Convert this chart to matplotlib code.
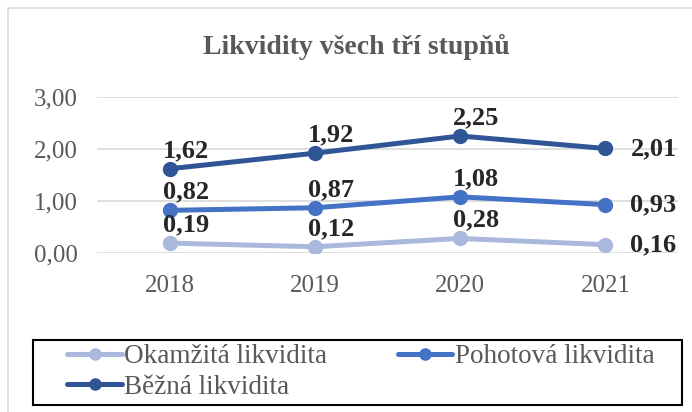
import matplotlib.pyplot as plt
from matplotlib.patches import Rectangle

# data
years = ["2018", "2019", "2020", "2021"]
okamzita = [0.19, 0.12, 0.28, 0.16]
pohotova = [0.82, 0.87, 1.08, 0.93]
bezna = [1.62, 1.92, 2.25, 2.01]
series_names = ["Okamžitá likvidita", "Pohotová likvidita", "Běžná likvidita"]
yticks = [0.0, 1.0, 2.0, 3.0]

colors = ["#A9B8DC", "#4472C4", "#2F5597"]
text_gray = "#595959"

plt.rcParams['font.family'] = ['Liberation Serif', 'DejaVu Serif']

W, H = 692, 412
fig = plt.figure(figsize=(W / 100, H / 100), dpi=100)
ax = fig.add_axes([97 / W, 1 - 253 / H, 581 / W, 156 / H])

# outer chart border
fig.patches.append(Rectangle((8 / W, -0.1), 1.2, 1 - 8 / H + 0.1,
                             transform=fig.transFigure, fill=False,
                             edgecolor="#D9D9D9", linewidth=1.2))
# legend box
fig.patches.append(Rectangle((33 / W, 1 - 405 / H), 649 / W, 65 / H,
                             transform=fig.transFigure, fill=False,
                             edgecolor="black", linewidth=1.5))

x = list(range(len(years)))
lines = []
for vals, name, c in zip([okamzita, pohotova, bezna], series_names, colors):
    ln, = ax.plot(x, vals, color=c, linewidth=3.6, marker="o", markersize=10,
                  label=name, solid_capstyle="round", zorder=3)
    lines.append(ln)
    for i, v in enumerate(vals):
        lab = f"{v:.2f}".replace(".", ",")
        if i == len(vals) - 1:
            ax.annotate(lab, (i, v), xytext=(18, 0), textcoords="offset points",
                        ha="left", va="center", fontsize=19, fontweight="bold",
                        color="#262626", zorder=4)
        else:
            ax.annotate(lab, (i, v), xytext=(-5, 5), textcoords="offset points",
                        ha="left", va="bottom", fontsize=19, fontweight="bold",
                        color="#262626", zorder=4)

ax.set_xlim(-0.5, 3.5)
ax.set_ylim(0, 3)
ax.set_yticks(yticks)
ax.set_yticklabels([f"{t:.2f}".replace(".", ",") for t in yticks])
ax.set_xticks(x)
ax.set_xticklabels(years)
ax.yaxis.grid(True, color="#D9D9D9", linewidth=1.2)
ax.set_axisbelow(True)
for s in ax.spines.values():
    s.set_visible(False)
ax.tick_params(length=0, labelsize=18, colors=text_gray)
ax.tick_params(axis="y", pad=14)
ax.tick_params(axis="x", pad=16)

fig.text(0.515, 1 - 47 / H, "Likvidity všech tří stupňů", ha="center",
         va="center", fontsize=20, fontweight="bold", color=text_gray)

# row-major order in 2 columns: Okamzita, Pohotova / Bezna
order = [lines[0], lines[2], lines[1]]
leg = fig.legend(order, [l.get_label() for l in order],
                 loc="upper left", bbox_to_anchor=(62 / W, 1 - 339 / H),
                 ncol=2, frameon=False, fontsize=19.5, handlelength=2.0,
                 handletextpad=0.1, columnspacing=2.6, labelspacing=0.2,
                 borderpad=0.2, borderaxespad=0, labelcolor=text_gray,
                 markerscale=0.8)

fig.savefig("out.png", dpi=100)
